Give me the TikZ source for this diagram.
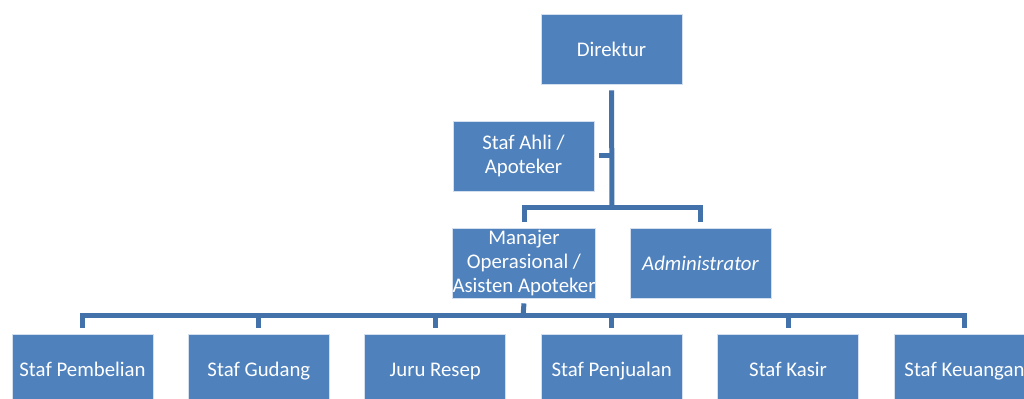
\documentclass[tikz,border=0pt]{standalone}
\usepackage{fontspec}
\setmainfont{Carlito}
\usepackage{xcolor}
\definecolor{boxblue}{HTML}{4F81BD}
\definecolor{lineblue}{HTML}{4372AA}
\usetikzlibrary{positioning,calc}

\begin{document}
\begin{tikzpicture}[x=0.5pt, y=-0.5pt,
		BoxStyle/.style={draw=white!75!boxblue, line width=0.4pt, fill=boxblue, text=white, minimum width=70.5pt, minimum height=35pt, inner sep=0pt, align=center, font=\fontsize{10.4}{12}\selectfont},
		OneLine/.style={BoxStyle, text height=8.3pt, text depth=1pt},
		LinkStyle/.style={draw=lineblue, line width=2.5pt, line cap=butt}]
		\useasboundingbox (0,0) rectangle (1024,399);
		\clip (0,0) rectangle (1024,399);
		% top part
		\node[OneLine] (direktur) at (611.5,49) {Direktur};
		\node[BoxStyle] (ahli) at (523.5,156) {Staf Ahli /\\Apoteker};
		\node[BoxStyle] (manajer) at (524,263) {Manajer\\Operasional /\\Asisten Apoteker};
		\node[OneLine, font=\fontsize{10.4}{12}\selectfont\itshape] (admin) at (700.5,263) {Administrator};
		\coordinate (hubA) at (612,208);
		\coordinate (hubB) at (523,316);
		\draw[LinkStyle] ([yshift=-3pt]direktur.south) -- (hubA);
		\draw[LinkStyle] ([xshift=2.5pt]ahli.east) -- (ahli.east -| hubA);
		\draw[LinkStyle] ([yshift=3pt]manajer.north) |- (hubA) -| ([yshift=3pt]admin.north);
		% staf
		\foreach \i/\name/\txt in {0/pembelian/Staf Pembelian, 1/gudang/Staf Gudang, 2/resep/Juru Resep, 3/penjualan/Staf Penjualan, 4/kasir/Staf Kasir, 5/keuangan/Staf Keuangan}
			\node[OneLine] (\name) at (82.5+176.4*\i,369) {\txt};
		\draw[LinkStyle] ([yshift=-2.5pt]manajer.south) -- (hubB);
		\draw[LinkStyle] ([yshift=3pt]pembelian.north) |- (hubB) -| ([yshift=3pt]keuangan.north);
		\foreach \name in {gudang,resep,penjualan,kasir}
			\draw[LinkStyle] ([yshift=3pt]\name.north) -- (\name.north |- hubB);
	\end{tikzpicture}
\end{document}
